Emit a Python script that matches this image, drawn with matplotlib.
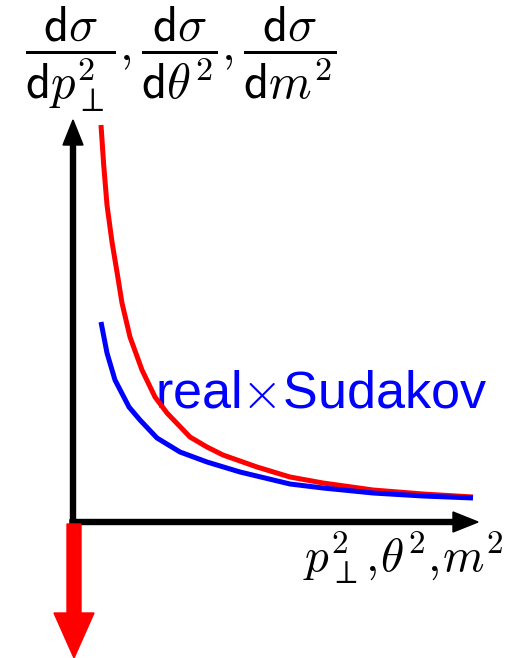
import matplotlib
matplotlib.use("Agg")
import matplotlib.pyplot as plt

plt.rcParams['mathtext.fontset'] = 'cm'

# schematic curves (arbitrary units; origin at axes corner)
red_x = [0.28, 0.307, 0.34, 0.39, 0.44, 0.49, 0.57, 0.69, 0.82, 0.94, 1.17, 1.34, 1.50, 1.84, 2.17, 2.50, 3.00, 3.50, 4.00]
red_y = [3.97, 3.57, 3.17, 2.80, 2.50, 2.19, 1.85, 1.52, 1.25, 1.09, 0.85, 0.75, 0.67, 0.55, 0.45, 0.39, 0.32, 0.28, 0.25]
blue_x = [0.28, 0.34, 0.42, 0.56, 0.67, 0.84, 1.07, 1.34, 1.67, 2.17, 2.50, 3.00, 3.50, 4.00]
blue_y = [2.00, 1.69, 1.42, 1.15, 1.02, 0.84, 0.70, 0.60, 0.50, 0.38, 0.34, 0.29, 0.26, 0.24]

ylabel = r'$\dfrac{\mathsf{d}\sigma}{\mathsf{d}p_\perp^2}, \dfrac{\mathsf{d}\sigma}{\mathsf{d}\theta^2}, \dfrac{\mathsf{d}\sigma}{\mathsf{d}m^2}$'
xlabel = r'$p_\perp^2,\!\theta^2,\!m^2$'
curve_label = r'real$\times$Sudakov'

fig = plt.figure(figsize=(5.15, 6.58), dpi=100)
ax = fig.add_axes([0, 0, 1, 1])
ax.set_xlim(-0.73, 4.42)
ax.set_ylim(-1.36, 5.22)
ax.axis('off')

ax.plot(red_x, red_y, color='red', lw=3.6, solid_capstyle='butt',
        solid_joinstyle='round', zorder=3)
ax.plot(blue_x, blue_y, color='blue', lw=3.6, solid_capstyle='butt',
        solid_joinstyle='round', zorder=3)

# axes arrows
ax.arrow(0, -0.03, 0, 4.05, width=0.05, head_width=0.2, head_length=0.25,
         length_includes_head=True, color='black', zorder=2)
ax.arrow(-0.03, 0, 4.08, 0, width=0.05, head_width=0.2, head_length=0.25,
         length_includes_head=True, color='black', zorder=2)
# red downward arrow
ax.arrow(0.01, -0.02, 0, -1.34, width=0.14, head_width=0.4, head_length=0.45,
         length_includes_head=True, color='red', zorder=2)

ax.text(1.08, 4.63, ylabel, fontsize=35, ha='center', va='center')
ax.text(3.30, -0.36, xlabel, fontsize=34, ha='center', va='center')
ax.text(0.82, 1.15, curve_label, fontsize=37.5, color='blue', family='Liberation Sans',
        ha='left', va='baseline', zorder=2.5)

fig.savefig('out.png', dpi=100)
